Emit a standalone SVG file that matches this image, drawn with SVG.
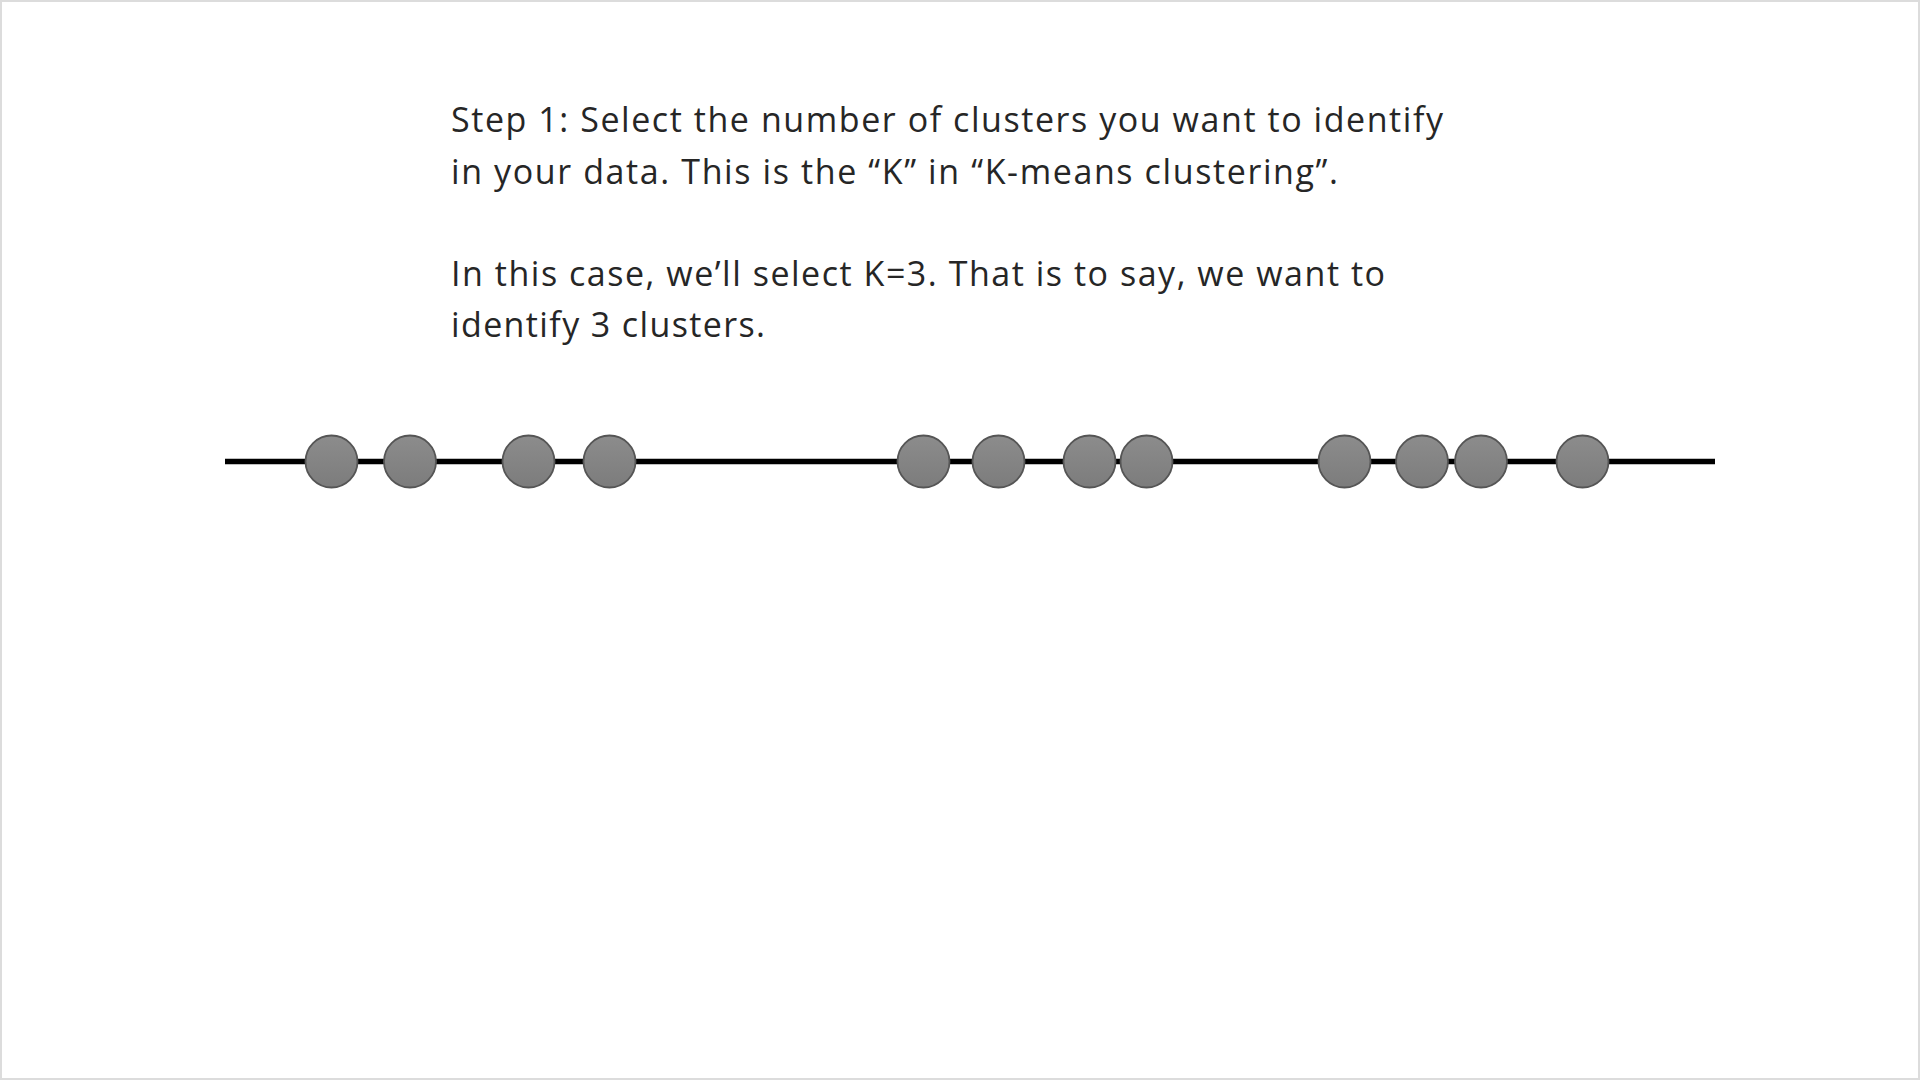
<svg xmlns="http://www.w3.org/2000/svg" width="1920" height="1080" viewBox="0 0 1920 1080">
  <style>
    .txt { font-family: "Open Sans", "Liberation Sans", sans-serif; font-size: 34px; fill: #262626; font-variant-ligatures: none; }
    .pt { fill: url(#ptGrad); stroke: #555555; stroke-width: 1.8; }
    .axis { stroke: #000000; stroke-width: 5.5; fill: none; }
  </style>
  <defs>
    <linearGradient id="ptGrad" x1="0" y1="0" x2="0" y2="1">
      <stop offset="0" stop-color="#8c8c8c"/>
      <stop offset="1" stop-color="#7c7c7c"/>
    </linearGradient>
  </defs>
  <rect x="0" y="0" width="1920" height="1080" fill="#ffffff"/>
  <rect x="1" y="1" width="1918" height="1078" fill="none" stroke="#dcdcdc" stroke-width="2"/>

  <g id="caption">
    <text class="txt" x="451" y="132" textLength="992" lengthAdjust="spacing">Step 1: Select the number of clusters you want to identify</text>
    <text class="txt" x="451" y="184" textLength="887" lengthAdjust="spacing">in your data. This is the “K” in “K-means clustering”.</text>
    <text class="txt" x="451" y="286" textLength="934" lengthAdjust="spacing">In this case, we’ll select K=3. That is to say, we want to</text>
    <text class="txt" x="451" y="337" textLength="314" lengthAdjust="spacing">identify 3 clusters.</text>
  </g>

  <g id="connectors">
    <line class="axis" x1="225" y1="461.5" x2="1715" y2="461.5"/>
  </g>

  <g id="p1"><circle class="pt" cx="331.5" cy="461.5" r="26"/></g>
  <g id="p2"><circle class="pt" cx="410" cy="461.5" r="26"/></g>
  <g id="p3"><circle class="pt" cx="528.5" cy="461.5" r="26"/></g>
  <g id="p4"><circle class="pt" cx="609.5" cy="461.5" r="26"/></g>
  <g id="p5"><circle class="pt" cx="923.5" cy="461.5" r="26"/></g>
  <g id="p6"><circle class="pt" cx="998.5" cy="461.5" r="26"/></g>
  <g id="p7"><circle class="pt" cx="1089.5" cy="461.5" r="26"/></g>
  <g id="p8"><circle class="pt" cx="1146.5" cy="461.5" r="26"/></g>
  <g id="p9"><circle class="pt" cx="1344.5" cy="461.5" r="26"/></g>
  <g id="p10"><circle class="pt" cx="1422" cy="461.5" r="26"/></g>
  <g id="p11"><circle class="pt" cx="1481" cy="461.5" r="26"/></g>
  <g id="p12"><circle class="pt" cx="1582.5" cy="461.5" r="26"/></g>
</svg>
